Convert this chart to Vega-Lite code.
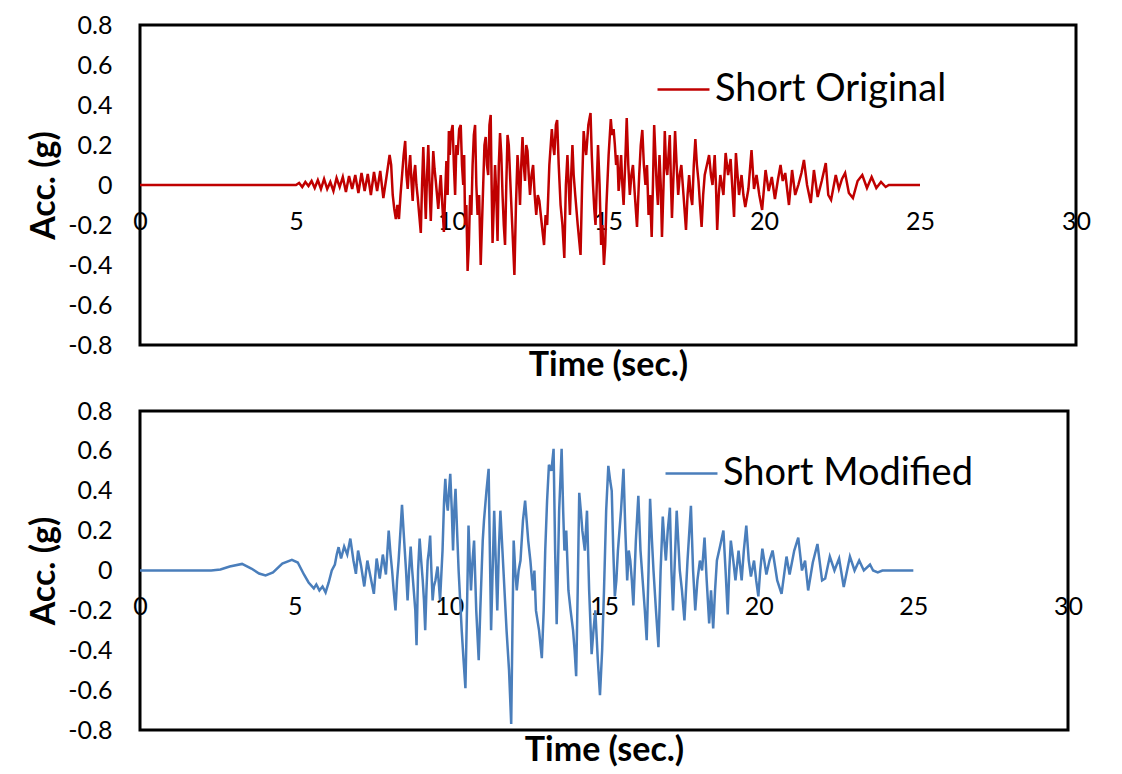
{
 "$schema": "https://vega.github.io/schema/vega-lite/v6.json",
 "background": "white",
 "padding": {"left": 26, "top": 11, "right": 5, "bottom": 5},
 "spacing": 13,
 "resolve": {"scale": {"color": "independent"}, "legend": {"color": "independent"}},
 "config": {
   "font": "Lato",
   "view": {"stroke": "black", "strokeWidth": 3},
   "axis": {"grid": false, "ticks": false, "domain": false, "labelFont": "Lato", "labelFontSize": 25, "labelColor": "black", "titleFont": "Lato", "titleFontSize": 34, "titleFontWeight": "bold", "titleColor": "black"},
   "legend": {"orient": "none", "symbolType": "stroke", "symbolSize": 2700, "symbolStrokeWidth": 2.5, "labelFont": "Lato", "labelFontSize": 38, "labelColor": "black", "labelLimit": 500, "labelOffset": 4}
 },
 "datasets": {
  "orig": [
   {"t":0,"a":0},{"t":5.0,"a":0},{"t":5.1,"a":0.01},{"t":5.2,"a":-0.01},{"t":5.3,"a":0.015},{"t":5.4,"a":-0.005},{"t":5.5,"a":0.02},{"t":5.6,"a":-0.015},{"t":5.7,"a":0.025},{"t":5.8,"a":-0.02},{"t":5.9,"a":0.03},{"t":6.0,"a":-0.02},{"t":6.1,"a":0.015},{"t":6.2,"a":-0.03},{"t":6.3,"a":0.035},{"t":6.4,"a":-0.01},{"t":6.5,"a":0.04},{"t":6.6,"a":-0.035},{"t":6.7,"a":0.045},{"t":6.8,"a":-0.02},{"t":6.9,"a":0.05},{"t":7.0,"a":-0.04},{"t":7.1,"a":0.06},{"t":7.2,"a":-0.03},{"t":7.3,"a":0.055},{"t":7.4,"a":-0.05},{"t":7.5,"a":0.065},{"t":7.6,"a":-0.03},{"t":7.7,"a":0.07},{"t":7.8,"a":-0.065},{"t":7.9,"a":0.04},{"t":8.0,"a":0.15},{"t":8.05,"a":0.1},{"t":8.1,"a":-0.05},{"t":8.15,"a":-0.12},{"t":8.2,"a":-0.17},{"t":8.25,"a":-0.1},{"t":8.3,"a":-0.17},{"t":8.35,"a":-0.05},{"t":8.4,"a":0.05},{"t":8.45,"a":0.15},{"t":8.5,"a":0.22},{"t":8.54,"a":0.05},{"t":8.58,"a":-0.02},{"t":8.62,"a":0.08},{"t":8.66,"a":0.15},{"t":8.7,"a":0.02},{"t":8.74,"a":-0.08},{"t":8.78,"a":0.05},{"t":8.82,"a":0.1},{"t":8.86,"a":0.0},{"t":8.9,"a":-0.06},{"t":8.95,"a":-0.15},{"t":9.0,"a":-0.24},{"t":9.04,"a":0.0},{"t":9.08,"a":0.19},{"t":9.12,"a":0.0},{"t":9.16,"a":-0.17},{"t":9.2,"a":0.05},{"t":9.24,"a":0.2},{"t":9.28,"a":0.0},{"t":9.32,"a":-0.18},{"t":9.36,"a":0.0},{"t":9.4,"a":0.17},{"t":9.44,"a":0.08},{"t":9.48,"a":0.02},{"t":9.52,"a":-0.05},{"t":9.56,"a":-0.12},{"t":9.6,"a":-0.03},{"t":9.64,"a":0.05},{"t":9.69,"a":-0.1},{"t":9.74,"a":-0.235},{"t":9.78,"a":-0.05},{"t":9.82,"a":0.12},{"t":9.86,"a":-0.05},{"t":9.9,"a":0.27},{"t":9.93,"a":0.15},{"t":9.96,"a":0.25},{"t":10.02,"a":0.3},{"t":10.06,"a":0.1},{"t":10.1,"a":-0.05},{"t":10.14,"a":0.2},{"t":10.18,"a":0.15},{"t":10.23,"a":0.28},{"t":10.28,"a":0.3},{"t":10.32,"a":0.1},{"t":10.36,"a":0.0},{"t":10.39,"a":0.15},{"t":10.42,"a":-0.2},{"t":10.46,"a":-0.1},{"t":10.5,"a":-0.43},{"t":10.54,"a":-0.3},{"t":10.58,"a":-0.05},{"t":10.62,"a":-0.15},{"t":10.66,"a":0.1},{"t":10.7,"a":0.25},{"t":10.74,"a":0.3},{"t":10.78,"a":0.0},{"t":10.82,"a":-0.15},{"t":10.87,"a":-0.05},{"t":10.92,"a":-0.4},{"t":10.96,"a":-0.2},{"t":11.0,"a":0.0},{"t":11.04,"a":0.2},{"t":11.08,"a":0.24},{"t":11.12,"a":0.1},{"t":11.16,"a":0.05},{"t":11.2,"a":0.3},{"t":11.24,"a":0.35},{"t":11.27,"a":0.0},{"t":11.3,"a":-0.29},{"t":11.34,"a":-0.1},{"t":11.38,"a":0.1},{"t":11.42,"a":-0.05},{"t":11.46,"a":-0.28},{"t":11.5,"a":0.1},{"t":11.54,"a":0.26},{"t":11.58,"a":0.15},{"t":11.62,"a":-0.05},{"t":11.66,"a":-0.2},{"t":11.7,"a":-0.3},{"t":11.74,"a":0.0},{"t":11.78,"a":0.25},{"t":11.82,"a":0.2},{"t":11.86,"a":0.05},{"t":11.93,"a":-0.2},{"t":12.0,"a":-0.45},{"t":12.05,"a":-0.1},{"t":12.1,"a":0.15},{"t":12.14,"a":0.05},{"t":12.18,"a":-0.1},{"t":12.22,"a":0.1},{"t":12.26,"a":0.24},{"t":12.3,"a":0.1},{"t":12.34,"a":0.02},{"t":12.38,"a":0.2},{"t":12.42,"a":0.17},{"t":12.46,"a":0.05},{"t":12.5,"a":-0.05},{"t":12.55,"a":0.05},{"t":12.6,"a":0.1},{"t":12.65,"a":-0.05},{"t":12.7,"a":-0.15},{"t":12.75,"a":-0.05},{"t":12.8,"a":-0.08},{"t":12.88,"a":-0.2},{"t":12.95,"a":-0.3},{"t":13.0,"a":-0.15},{"t":13.05,"a":-0.2},{"t":13.12,"a":0.1},{"t":13.2,"a":0.28},{"t":13.24,"a":0.2},{"t":13.28,"a":0.15},{"t":13.33,"a":0.3},{"t":13.37,"a":0.325},{"t":13.42,"a":0.1},{"t":13.48,"a":-0.1},{"t":13.54,"a":-0.2},{"t":13.6,"a":-0.365},{"t":13.65,"a":0.0},{"t":13.7,"a":0.15},{"t":13.74,"a":0.0},{"t":13.78,"a":-0.15},{"t":13.82,"a":0.05},{"t":13.86,"a":0.2},{"t":13.9,"a":0.05},{"t":13.95,"a":-0.05},{"t":14.03,"a":-0.2},{"t":14.12,"a":-0.35},{"t":14.17,"a":0.0},{"t":14.22,"a":0.27},{"t":14.26,"a":0.2},{"t":14.3,"a":0.15},{"t":14.37,"a":0.3},{"t":14.44,"a":0.36},{"t":14.48,"a":0.15},{"t":14.52,"a":0.0},{"t":14.56,"a":-0.12},{"t":14.6,"a":-0.2},{"t":14.64,"a":0.0},{"t":14.68,"a":0.2},{"t":14.73,"a":0.0},{"t":14.78,"a":-0.3},{"t":14.82,"a":-0.2},{"t":14.87,"a":-0.4},{"t":14.91,"a":-0.3},{"t":14.95,"a":-0.1},{"t":15.02,"a":0.15},{"t":15.09,"a":0.33},{"t":15.13,"a":0.25},{"t":15.18,"a":0.28},{"t":15.22,"a":0.2},{"t":15.26,"a":0.1},{"t":15.3,"a":0.15},{"t":15.34,"a":-0.03},{"t":15.38,"a":0.05},{"t":15.42,"a":0.15},{"t":15.46,"a":0.0},{"t":15.5,"a":-0.1},{"t":15.55,"a":0.1},{"t":15.6,"a":0.335},{"t":15.65,"a":0.1},{"t":15.7,"a":-0.05},{"t":15.75,"a":0.05},{"t":15.8,"a":0.1},{"t":15.86,"a":-0.05},{"t":15.93,"a":-0.21},{"t":16.0,"a":0.05},{"t":16.05,"a":0.2},{"t":16.1,"a":0.275},{"t":16.15,"a":0.1},{"t":16.2,"a":0.0},{"t":16.25,"a":0.1},{"t":16.3,"a":-0.15},{"t":16.35,"a":-0.05},{"t":16.4,"a":-0.26},{"t":16.44,"a":0.0},{"t":16.48,"a":0.3},{"t":16.52,"a":0.15},{"t":16.56,"a":0.0},{"t":16.6,"a":-0.1},{"t":16.65,"a":0.15},{"t":16.69,"a":0.0},{"t":16.73,"a":-0.26},{"t":16.78,"a":0.0},{"t":16.82,"a":0.27},{"t":16.86,"a":0.1},{"t":16.9,"a":0.05},{"t":16.94,"a":0.15},{"t":16.98,"a":0.25},{"t":17.02,"a":0.0},{"t":17.05,"a":-0.165},{"t":17.1,"a":0.05},{"t":17.15,"a":0.27},{"t":17.2,"a":0.1},{"t":17.25,"a":-0.05},{"t":17.3,"a":0.05},{"t":17.35,"a":0.1},{"t":17.42,"a":-0.05},{"t":17.5,"a":-0.225},{"t":17.55,"a":-0.05},{"t":17.6,"a":0.05},{"t":17.65,"a":-0.05},{"t":17.7,"a":-0.1},{"t":17.75,"a":0.1},{"t":17.8,"a":0.23},{"t":17.85,"a":0.1},{"t":17.9,"a":0.02},{"t":17.95,"a":-0.1},{"t":18.0,"a":-0.21},{"t":18.05,"a":-0.05},{"t":18.1,"a":0.05},{"t":18.17,"a":0.1},{"t":18.24,"a":0.15},{"t":18.3,"a":0.05},{"t":18.35,"a":0.0},{"t":18.42,"a":0.15},{"t":18.46,"a":0.0},{"t":18.5,"a":-0.225},{"t":18.55,"a":-0.05},{"t":18.6,"a":0.05},{"t":18.65,"a":0.0},{"t":18.7,"a":-0.05},{"t":18.77,"a":0.16},{"t":18.85,"a":0.05},{"t":18.93,"a":0.13},{"t":18.98,"a":0.0},{"t":19.04,"a":-0.16},{"t":19.1,"a":0.16},{"t":19.2,"a":-0.05},{"t":19.28,"a":0.05},{"t":19.34,"a":-0.05},{"t":19.4,"a":-0.11},{"t":19.5,"a":-0.02},{"t":19.6,"a":0.175},{"t":19.68,"a":-0.02},{"t":19.76,"a":0.05},{"t":19.85,"a":-0.05},{"t":19.94,"a":-0.125},{"t":20.05,"a":0.075},{"t":20.15,"a":-0.03},{"t":20.25,"a":0.04},{"t":20.35,"a":-0.07},{"t":20.45,"a":0.03},{"t":20.53,"a":0.1},{"t":20.6,"a":0.02},{"t":20.68,"a":0.06},{"t":20.8,"a":-0.1},{"t":20.9,"a":0.075},{"t":21.0,"a":-0.05},{"t":21.1,"a":0.0},{"t":21.2,"a":0.06},{"t":21.28,"a":0.125},{"t":21.38,"a":0.0},{"t":21.5,"a":-0.09},{"t":21.6,"a":0.075},{"t":21.72,"a":-0.06},{"t":21.85,"a":0.02},{"t":21.98,"a":0.11},{"t":22.06,"a":-0.05},{"t":22.15,"a":-0.075},{"t":22.3,"a":0.05},{"t":22.4,"a":-0.02},{"t":22.5,"a":0.03},{"t":22.6,"a":0.06},{"t":22.72,"a":-0.04},{"t":22.85,"a":-0.065},{"t":23.0,"a":0.02},{"t":23.15,"a":0.05},{"t":23.3,"a":-0.015},{"t":23.45,"a":0.04},{"t":23.6,"a":-0.015},{"t":23.75,"a":0.015},{"t":23.9,"a":-0.01},{"t":24.0,"a":0.0},{"t":25.0,"a":0.0}
  ],
  "mod": [
   {"t":0,"a":0},{"t":2.3,"a":0},{"t":2.6,"a":0.005},{"t":2.9,"a":0.02},{"t":3.3,"a":0.033},{"t":3.6,"a":0.01},{"t":3.85,"a":-0.015},{"t":4.06,"a":-0.025},{"t":4.3,"a":-0.01},{"t":4.6,"a":0.035},{"t":4.91,"a":0.053},{"t":5.1,"a":0.04},{"t":5.3,"a":-0.02},{"t":5.45,"a":-0.06},{"t":5.62,"a":-0.09},{"t":5.7,"a":-0.07},{"t":5.8,"a":-0.1},{"t":5.9,"a":-0.08},{"t":6.0,"a":-0.11},{"t":6.1,"a":-0.06},{"t":6.2,"a":0.0},{"t":6.3,"a":0.03},{"t":6.36,"a":0.08},{"t":6.42,"a":0.117},{"t":6.5,"a":0.06},{"t":6.6,"a":0.12},{"t":6.7,"a":0.08},{"t":6.8,"a":0.16},{"t":6.9,"a":0.05},{"t":6.98,"a":-0.017},{"t":7.05,"a":0.1},{"t":7.15,"a":0.02},{"t":7.25,"a":-0.08},{"t":7.35,"a":0.05},{"t":7.45,"a":-0.03},{"t":7.56,"a":-0.117},{"t":7.65,"a":0.06},{"t":7.75,"a":-0.04},{"t":7.85,"a":0.08},{"t":7.95,"a":-0.02},{"t":8.04,"a":0.2},{"t":8.1,"a":0.08},{"t":8.15,"a":0.0},{"t":8.2,"a":-0.1},{"t":8.26,"a":-0.2},{"t":8.31,"a":-0.05},{"t":8.36,"a":0.05},{"t":8.42,"a":0.2},{"t":8.47,"a":0.33},{"t":8.52,"a":0.2},{"t":8.56,"a":0.1},{"t":8.6,"a":0.0},{"t":8.65,"a":-0.15},{"t":8.7,"a":0.0},{"t":8.75,"a":0.12},{"t":8.8,"a":0.0},{"t":8.85,"a":-0.1},{"t":8.9,"a":-0.2},{"t":8.94,"a":-0.375},{"t":8.99,"a":0.0},{"t":9.04,"a":0.16},{"t":9.09,"a":0.05},{"t":9.14,"a":-0.05},{"t":9.18,"a":-0.15},{"t":9.22,"a":-0.3},{"t":9.26,"a":-0.1},{"t":9.3,"a":0.05},{"t":9.34,"a":0.1},{"t":9.38,"a":0.175},{"t":9.42,"a":0.0},{"t":9.46,"a":-0.15},{"t":9.5,"a":-0.08},{"t":9.55,"a":-0.05},{"t":9.62,"a":0.02},{"t":9.7,"a":-0.15},{"t":9.78,"a":0.1},{"t":9.83,"a":0.35},{"t":9.87,"a":0.46},{"t":9.91,"a":0.35},{"t":9.95,"a":0.3},{"t":9.99,"a":0.4},{"t":10.03,"a":0.485},{"t":10.08,"a":0.3},{"t":10.12,"a":0.1},{"t":10.16,"a":0.3},{"t":10.2,"a":0.41},{"t":10.25,"a":0.2},{"t":10.3,"a":0.0},{"t":10.35,"a":-0.15},{"t":10.4,"a":-0.3},{"t":10.46,"a":-0.45},{"t":10.52,"a":-0.59},{"t":10.57,"a":-0.2},{"t":10.62,"a":0.225},{"t":10.66,"a":0.05},{"t":10.7,"a":-0.1},{"t":10.75,"a":0.05},{"t":10.8,"a":0.15},{"t":10.87,"a":-0.2},{"t":10.95,"a":-0.45},{"t":11.0,"a":-0.2},{"t":11.05,"a":0.02},{"t":11.08,"a":0.15},{"t":11.12,"a":0.25},{"t":11.2,"a":0.4},{"t":11.27,"a":0.51},{"t":11.31,"a":0.1},{"t":11.35,"a":-0.3},{"t":11.4,"a":0.0},{"t":11.45,"a":0.3},{"t":11.5,"a":0.05},{"t":11.55,"a":-0.2},{"t":11.6,"a":0.1},{"t":11.65,"a":0.3},{"t":11.7,"a":0.15},{"t":11.75,"a":0.0},{"t":11.8,"a":-0.15},{"t":11.85,"a":-0.3},{"t":11.93,"a":-0.5},{"t":12.0,"a":-0.77},{"t":12.04,"a":-0.3},{"t":12.08,"a":0.15},{"t":12.13,"a":0.0},{"t":12.18,"a":-0.1},{"t":12.24,"a":0.0},{"t":12.3,"a":0.05},{"t":12.38,"a":0.25},{"t":12.45,"a":0.35},{"t":12.5,"a":0.25},{"t":12.55,"a":0.15},{"t":12.62,"a":0.05},{"t":12.7,"a":-0.1},{"t":12.75,"a":0.0},{"t":12.8,"a":-0.2},{"t":12.9,"a":-0.3},{"t":12.99,"a":-0.44},{"t":13.05,"a":-0.2},{"t":13.1,"a":0.1},{"t":13.16,"a":0.35},{"t":13.22,"a":0.53},{"t":13.3,"a":0.5},{"t":13.37,"a":0.61},{"t":13.42,"a":0.1},{"t":13.47,"a":-0.27},{"t":13.51,"a":0.0},{"t":13.55,"a":0.3},{"t":13.59,"a":0.45},{"t":13.63,"a":0.61},{"t":13.68,"a":0.3},{"t":13.72,"a":0.1},{"t":13.78,"a":0.2},{"t":13.85,"a":-0.1},{"t":13.92,"a":-0.2},{"t":14.0,"a":-0.3},{"t":14.05,"a":-0.4},{"t":14.1,"a":-0.53},{"t":14.15,"a":-0.1},{"t":14.2,"a":0.39},{"t":14.25,"a":0.3},{"t":14.3,"a":0.2},{"t":14.38,"a":0.1},{"t":14.45,"a":0.3},{"t":14.52,"a":-0.1},{"t":14.6,"a":-0.42},{"t":14.66,"a":-0.3},{"t":14.72,"a":-0.2},{"t":14.8,"a":-0.45},{"t":14.87,"a":-0.625},{"t":14.94,"a":-0.4},{"t":15.0,"a":-0.1},{"t":15.07,"a":0.3},{"t":15.14,"a":0.525},{"t":15.2,"a":0.45},{"t":15.25,"a":0.4},{"t":15.3,"a":0.1},{"t":15.35,"a":-0.13},{"t":15.4,"a":-0.05},{"t":15.45,"a":0.1},{"t":15.55,"a":0.3},{"t":15.63,"a":0.51},{"t":15.69,"a":0.2},{"t":15.75,"a":-0.05},{"t":15.8,"a":0.1},{"t":15.85,"a":0.05},{"t":15.9,"a":-0.05},{"t":15.95,"a":-0.175},{"t":16.03,"a":0.15},{"t":16.11,"a":0.375},{"t":16.18,"a":0.1},{"t":16.25,"a":-0.05},{"t":16.32,"a":-0.2},{"t":16.38,"a":-0.35},{"t":16.44,"a":0.0},{"t":16.49,"a":0.36},{"t":16.55,"a":0.15},{"t":16.6,"a":0.0},{"t":16.68,"a":-0.2},{"t":16.76,"a":-0.385},{"t":16.83,"a":0.0},{"t":16.9,"a":0.27},{"t":16.95,"a":0.15},{"t":17.0,"a":0.05},{"t":17.06,"a":0.2},{"t":17.13,"a":0.315},{"t":17.18,"a":0.0},{"t":17.23,"a":-0.2},{"t":17.29,"a":0.05},{"t":17.35,"a":0.3},{"t":17.4,"a":0.15},{"t":17.45,"a":0.0},{"t":17.52,"a":-0.1},{"t":17.6,"a":-0.25},{"t":17.7,"a":0.05},{"t":17.81,"a":0.325},{"t":17.88,"a":0.0},{"t":17.95,"a":-0.2},{"t":18.02,"a":-0.05},{"t":18.1,"a":0.05},{"t":18.17,"a":0.0},{"t":18.25,"a":0.165},{"t":18.32,"a":-0.05},{"t":18.4,"a":-0.265},{"t":18.46,"a":-0.1},{"t":18.53,"a":-0.29},{"t":18.59,"a":-0.1},{"t":18.65,"a":0.05},{"t":18.75,"a":0.12},{"t":18.86,"a":0.2},{"t":18.93,"a":0.0},{"t":19.0,"a":-0.22},{"t":19.05,"a":0.0},{"t":19.1,"a":0.15},{"t":19.18,"a":0.05},{"t":19.25,"a":-0.05},{"t":19.35,"a":0.1},{"t":19.45,"a":-0.05},{"t":19.52,"a":0.1},{"t":19.6,"a":0.225},{"t":19.68,"a":0.05},{"t":19.75,"a":-0.03},{"t":19.85,"a":0.05},{"t":19.92,"a":-0.05},{"t":19.99,"a":-0.13},{"t":20.05,"a":0.0},{"t":20.12,"a":0.11},{"t":20.25,"a":-0.02},{"t":20.35,"a":0.05},{"t":20.45,"a":0.1},{"t":20.6,"a":-0.05},{"t":20.74,"a":-0.117},{"t":20.9,"a":0.07},{"t":21.0,"a":-0.02},{"t":21.15,"a":0.1},{"t":21.28,"a":0.165},{"t":21.4,"a":0.0},{"t":21.5,"a":0.05},{"t":21.6,"a":-0.1},{"t":21.75,"a":0.04},{"t":21.9,"a":0.133},{"t":22.05,"a":-0.05},{"t":22.15,"a":-0.04},{"t":22.3,"a":0.07},{"t":22.45,"a":0.0},{"t":22.6,"a":0.06},{"t":22.75,"a":-0.083},{"t":22.95,"a":0.07},{"t":23.1,"a":0.0},{"t":23.25,"a":0.05},{"t":23.4,"a":0.0},{"t":23.6,"a":0.03},{"t":23.7,"a":0.0},{"t":23.85,"a":-0.01},{"t":24.0,"a":0.0},{"t":25.0,"a":0.0}
  ]
 },
 "vconcat": [
  {
   "width": 936, "height": 320,
   "data": {"name": "orig"},
   "mark": {"type": "line", "strokeWidth": 2.5},
   "encoding": {
     "x": {"field": "t", "type": "quantitative", "scale": {"domain": [0, 30], "nice": false}, "axis": {"title": "Time (sec.)", "values": [0, 5, 10, 15, 20, 25, 30], "offset": -160, "labelPadding": 24, "titlePadding": 114, "labelFlush": false, "labelOverlap": false}},
     "y": {"field": "a", "type": "quantitative", "scale": {"domain": [-0.8, 0.8], "nice": false}, "axis": {"title": "Acc. (g)", "values": [-0.8, -0.6, -0.4, -0.2, 0, 0.2, 0.4, 0.6, 0.8], "labelExpr": "datum.value == 0 ? '0' : (datum.value < 0 ? '-' + format(-datum.value, '.1f') : format(datum.value, '.1f'))", "labelPadding": 28, "titlePadding": 6, "labelFlush": false}},
     "color": {"datum": "Short Original", "type": "nominal", "scale": {"domain": ["Short Original"], "range": ["#C00000"]}, "legend": {"title": null, "legendX": 516, "legendY": 37}}
   }
  },
  {
   "width": 928, "height": 319,
   "data": {"name": "mod"},
   "mark": {"type": "line", "strokeWidth": 2.5},
   "encoding": {
     "x": {"field": "t", "type": "quantitative", "scale": {"domain": [0, 30], "nice": false}, "axis": {"title": "Time (sec.)", "values": [0, 5, 10, 15, 20, 25, 30], "offset": -160, "labelPadding": 24, "titlePadding": 114, "labelFlush": false, "labelOverlap": false}},
     "y": {"field": "a", "type": "quantitative", "scale": {"domain": [-0.8, 0.8], "nice": false}, "axis": {"title": "Acc. (g)", "values": [-0.8, -0.6, -0.4, -0.2, 0, 0.2, 0.4, 0.6, 0.8], "labelExpr": "datum.value == 0 ? '0' : (datum.value < 0 ? '-' + format(-datum.value, '.1f') : format(datum.value, '.1f'))", "labelPadding": 28, "titlePadding": 6, "labelFlush": false}},
     "color": {"datum": "Short Modified", "type": "nominal", "scale": {"domain": ["Short Modified"], "range": ["#4A7EBB"]}, "legend": {"title": null, "legendX": 524, "legendY": 35}}
   }
  }
 ]
}
